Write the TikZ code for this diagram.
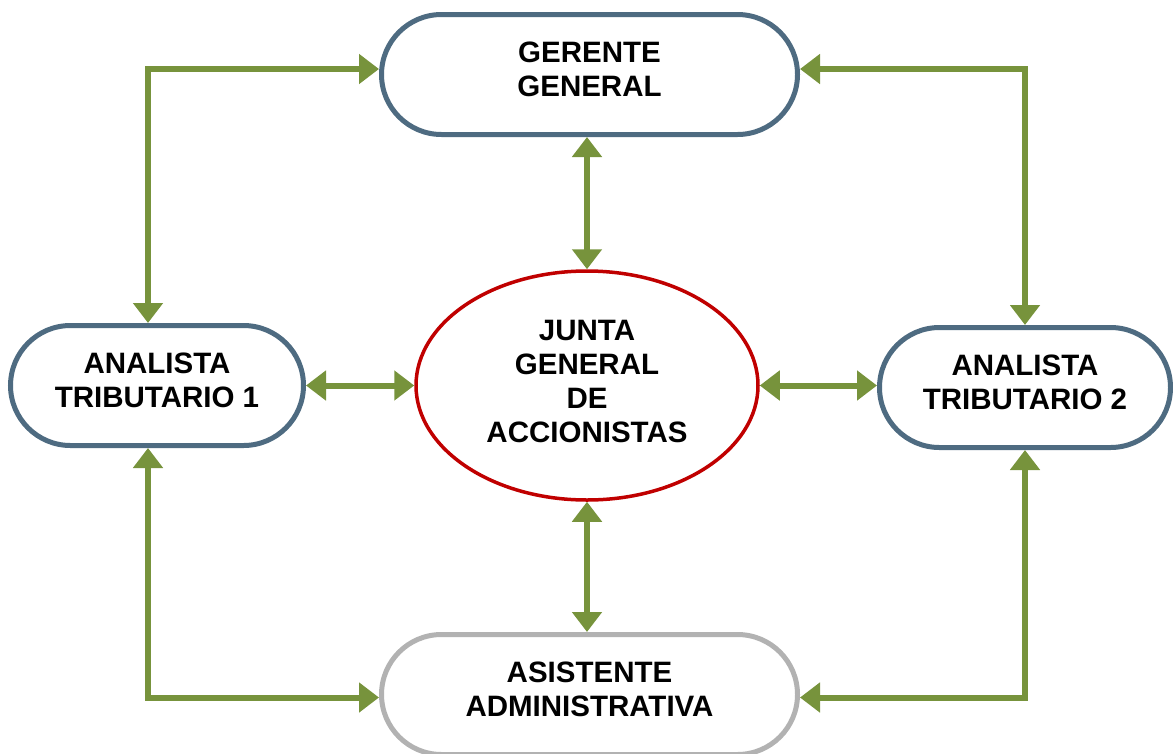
\documentclass[tikz,border=0pt]{standalone}
\usepackage{fontspec}
\setmainfont{Liberation Sans}
\usetikzlibrary{arrows.meta,shapes.misc,shapes.geometric}
\definecolor{slate}{HTML}{4E6B81}
\definecolor{olivegr}{HTML}{77933C}
\definecolor{lgray}{HTML}{B2B2B2}
\definecolor{dred}{HTML}{C00000}
\tikzset{
  txt/.style={font=\bfseries\fontsize{29.5}{34}\selectfont, align=center, text depth=10pt},
  box/.style={txt, rounded rectangle, draw=slate, line width=5pt, minimum height=120pt, fill=white, inner sep=0pt},
  grbox/.style={box, draw=lgray},
  oval/.style={txt, ellipse, draw=dred, line width=3.5pt, fill=white, inner sep=0pt, minimum width=342pt, minimum height=229pt},
  arr/.style={draw=olivegr, line width=6pt, {Triangle[width=29pt,length=20pt]}-{Triangle[width=29pt,length=20pt]}}
}
\begin{document}
\begin{tikzpicture}[x=1pt,y=-1pt]
\useasboundingbox (0,0) rectangle (1173,753);
\node[box, minimum width=416pt] (G) at (589.5,74.5) {GERENTE\\GENERAL};
\node[box, minimum width=293pt] (L) at (157,385.5) {ANALISTA\\TRIBUTARIO 1};
\node[box, minimum width=291pt] (R) at (1025,387.5) {ANALISTA\\TRIBUTARIO 2};
\node[grbox, minimum width=416pt] (A) at (589.5,694.5) {ASISTENTE\\ADMINISTRATIVA};
\node[oval, text depth=9pt] (E) at (587,385.5) {JUNTA\\GENERAL\\DE\\ACCIONISTAS};
\coordinate (xl) at (148,69);
\coordinate (xr) at (1025,69);
\coordinate (yb) at (148,697.5);
\draw[arr] (L.north -| xl) |- (G.west |- xl);
\draw[arr] (R.north) |- (G.east |- xr);
\draw[arr] (L.south -| xl) |- (A.west |- yb);
\draw[arr] (R.south) |- (A.east |- yb);
\draw[arr] (G.south -| E) -- (E.north);
\draw[arr] (E.south) -- (A.north -| E);
\draw[arr] (L.east |- E) -- (E.west);
\draw[arr] (E.east) -- (R.west |- E);
\end{tikzpicture}
\end{document}
